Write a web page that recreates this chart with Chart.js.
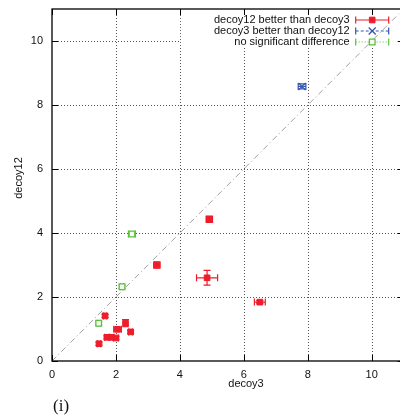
<!DOCTYPE html>
<html>
<head>
<meta charset="utf-8">
<script src="https://cdn.jsdelivr.net/npm/chart.js@4/dist/chart.umd.min.js"></script>
<style>
html,body{margin:0;padding:0;background:#fff;overflow:hidden;}
#wrap{width:410px;height:419px;}
</style>
</head>
<body>
<div id="wrap"><canvas id="c" width="410" height="419"></canvas></div>
<script>
// ---- data ----
const xTicks = [0, 2, 4, 6, 8, 10];
const yTicks = [0, 2, 4, 6, 8, 10];
const axisRange = [0, 11];
const diagonal = [0, 11];

const seriesLabels = ["decoy12 better than decoy3", "decoy3 better than decoy12", "no significant difference"];

const redX    = [4.92, 3.28, 4.85, 6.50, 1.66, 2.30, 2.05, 2.46, 1.72, 1.86, 2.00, 1.47];
const redY    = [4.43, 3.00, 2.60, 1.84, 1.41, 1.18, 0.99, 0.91, 0.74, 0.74, 0.72, 0.54];
const redXErr = [0.10, 0.10, 0.33, 0.17, 0.05, 0.05, 0.12, 0.06, 0.08, 0.08, 0.08, 0.05];
const redYErr = [0.10, 0.10, 0.23, 0.05, 0.05, 0.11, 0.05, 0.05, 0.05, 0.05, 0.05, 0.05];

const blueX    = [7.82];
const blueY    = [8.58];
const blueXErr = [0.12];
const blueYErr = [0.08];

const greenX    = [2.50, 2.19, 1.46];
const greenY    = [3.97, 2.32, 1.18];
const greenXErr = [0.11, 0.05, 0.05];
const greenYErr = [0.03, 0.05, 0.05];

const xTitle = "decoy3";
const yTitle = "decoy12";
const panelLabel = "(i)";

// ---- styles ----
const RED = "#ee1d2b", BLUE = "#3456b0", GREEN = "#5fbf3c";
const FONT = "'Liberation Sans', Arial, Helvetica, sans-serif";

function pts(xs, ys, xe, ye) {
  return xs.map((x, i) => ({x: x, y: ys[i], xe: xe[i], ye: ye[i]}));
}

const datasets = [
  {
    type: 'line', label: 'diag',
    data: diagonal.map(v => ({x: v, y: v})),
    borderColor: '#a0a0a0', borderWidth: 1, borderDash: [6, 3, 1, 3],
    pointRadius: 0, fill: false
  },
  {
    label: seriesLabels[0], data: pts(redX, redY, redXErr, redYErr),
    pointStyle: 'rect', pointRadius: 4, backgroundColor: RED, borderColor: RED, borderWidth: 1,
    errColor: RED, errDash: []
  },
  {
    label: seriesLabels[1], data: pts(blueX, blueY, blueXErr, blueYErr),
    pointStyle: 'crossRot', pointRadius: 5, backgroundColor: BLUE, borderColor: BLUE, borderWidth: 1.3,
    errColor: BLUE, errDash: [3, 2]
  },
  {
    label: seriesLabels[2], data: pts(greenX, greenY, greenXErr, greenYErr),
    pointStyle: 'rect', pointRadius: 4, backgroundColor: '#f4fbf0', borderColor: GREEN, borderWidth: 1.3,
    errColor: GREEN, errDash: [1, 2]
  }
];

const CAP = 3.5;

function drawErr(ctx, xs, ys, d, color, dash) {
  const x = xs.getPixelForValue(d.x), y = ys.getPixelForValue(d.y);
  const x0 = xs.getPixelForValue(d.x - d.xe), x1 = xs.getPixelForValue(d.x + d.xe);
  const y0 = ys.getPixelForValue(d.y - d.ye), y1 = ys.getPixelForValue(d.y + d.ye);
  ctx.strokeStyle = color; ctx.lineWidth = 1.2; ctx.setLineDash(dash);
  ctx.beginPath();
  ctx.moveTo(x0, y); ctx.lineTo(x1, y);
  ctx.moveTo(x, y0); ctx.lineTo(x, y1);
  ctx.stroke();
  ctx.setLineDash([]);
  ctx.beginPath();
  ctx.moveTo(x0, y - CAP); ctx.lineTo(x0, y + CAP);
  ctx.moveTo(x1, y - CAP); ctx.lineTo(x1, y + CAP);
  ctx.moveTo(x - CAP, y0); ctx.lineTo(x + CAP, y0);
  ctx.moveTo(x - CAP, y1); ctx.lineTo(x + CAP, y1);
  ctx.stroke();
}

const gnuplotPlugin = {
  id: 'gnuplot',
  beforeDatasetsDraw(chart) {
    const ctx = chart.ctx, a = chart.chartArea;
    const xs = chart.scales.x, ys = chart.scales.y;
    ctx.save();
    // grid
    ctx.strokeStyle = '#555'; ctx.lineWidth = 1; ctx.setLineDash([1, 2]);
    ctx.beginPath();
    xTicks.forEach(v => { if (v === axisRange[0]) return; const p = Math.round(xs.getPixelForValue(v)) + 0.5; ctx.moveTo(p, a.top); ctx.lineTo(p, a.bottom); });
    yTicks.forEach(v => { if (v === axisRange[0]) return; const p = Math.round(ys.getPixelForValue(v)) + 0.5; ctx.moveTo(a.left, p); ctx.lineTo(a.right, p); });
    ctx.stroke();
    ctx.setLineDash([]);
    // opaque key box
    ctx.fillStyle = '#fff';
    ctx.fillRect(xs.getPixelForValue(4) + 1, a.top, a.right - xs.getPixelForValue(4) - 1, 38);
    // inward ticks
    ctx.strokeStyle = '#000'; ctx.lineWidth = 1;
    ctx.beginPath();
    const T = 6;
    xTicks.forEach(v => { const p = Math.round(xs.getPixelForValue(v)) + 0.5; ctx.moveTo(p, a.bottom); ctx.lineTo(p, a.bottom - T); ctx.moveTo(p, a.top); ctx.lineTo(p, a.top + T); });
    yTicks.forEach(v => { const p = Math.round(ys.getPixelForValue(v)) + 0.5; ctx.moveTo(a.left, p); ctx.lineTo(a.left + T, p); ctx.moveTo(a.right, p); ctx.lineTo(a.right - T, p); });
    ctx.stroke();
    ctx.restore();
  },
  beforeDatasetDraw(chart, args) {
    const ds = chart.data.datasets[args.index];
    if (!ds.errColor) return;
    const ctx = chart.ctx;
    ctx.save();
    ds.data.forEach(d => drawErr(ctx, chart.scales.x, chart.scales.y, d, ds.errColor, ds.errDash));
    ctx.restore();
  },
  afterDraw(chart) {
    const ctx = chart.ctx, a = chart.chartArea;
    ctx.save();
    // border
    ctx.strokeStyle = '#000'; ctx.lineWidth = 1.3;
    ctx.strokeRect(a.left, a.top, a.right - a.left, a.bottom - a.top);
    // key
    ctx.font = '11px ' + FONT; ctx.fillStyle = '#111';
    ctx.textAlign = 'right'; ctx.textBaseline = 'middle';
    const tx = a.right - 54, s0 = a.right - 48, s1 = a.right - 15, sm = (s0 + s1) / 2;
    chart.data.datasets.slice(1).forEach((ds, i) => {
      const y = a.top + 11 + i * 11;
      ctx.fillStyle = '#111';
      ctx.fillText(ds.label, tx, y);
      ctx.strokeStyle = ds.errColor; ctx.lineWidth = 1.2;
      ctx.setLineDash(ds.errDash);
      ctx.beginPath(); ctx.moveTo(s0, y); ctx.lineTo(s1, y); ctx.stroke();
      ctx.setLineDash([]);
      ctx.beginPath(); ctx.moveTo(s0, y - CAP); ctx.lineTo(s0, y + CAP); ctx.moveTo(s1, y - CAP); ctx.lineTo(s1, y + CAP); ctx.stroke();
      ctx.fillStyle = ds.backgroundColor; ctx.strokeStyle = ds.borderColor; ctx.lineWidth = ds.borderWidth;
      Chart.helpers.drawPoint(ctx, {pointStyle: ds.pointStyle, radius: ds.pointRadius, borderWidth: ds.borderWidth}, sm, y);
    });
    // axis titles
    ctx.fillStyle = '#111'; ctx.textAlign = 'center'; ctx.textBaseline = 'middle';
    ctx.font = '11px ' + FONT;
    ctx.fillText(xTitle, 246, 384);
    ctx.save(); ctx.translate(19, 178); ctx.rotate(-Math.PI / 2); ctx.fillText(yTitle, 0, 0); ctx.restore();
    ctx.font = "17px 'Liberation Serif', 'Times New Roman', serif";
    ctx.textAlign = 'left';
    ctx.fillText(panelLabel, 53, 407);
    ctx.restore();
  }
};

new Chart(document.getElementById('c'), {
  type: 'scatter',
  data: {datasets: datasets},
  options: {
    responsive: false, animation: false, devicePixelRatio: 1,
    layout: {padding: {top: 9, right: 5, left: 0, bottom: 0}},
    plugins: {legend: {display: false}, tooltip: {enabled: false}},
    scales: {
      x: {
        type: 'linear', min: axisRange[0], max: axisRange[1],
        afterBuildTicks: s => { s.ticks = xTicks.map(v => ({value: v})); },
        afterFit: s => { s.height = 58; s.paddingLeft = 0; s.paddingRight = 0; },
        grid: {display: false, drawTicks: false}, border: {display: false},
        ticks: {font: {family: FONT, size: 11}, color: '#111', padding: 7, maxRotation: 0, autoSkip: false}
      },
      y: {
        type: 'linear', min: axisRange[0], max: axisRange[1],
        afterBuildTicks: s => { s.ticks = yTicks.map(v => ({value: v})); },
        afterFit: s => { s.width = 52; s.paddingTop = 0; s.paddingBottom = 0; },
        grid: {display: false, drawTicks: false}, border: {display: false},
        ticks: {font: {family: FONT, size: 11}, color: '#111', padding: 9, autoSkip: false}
      }
    }
  },
  plugins: [gnuplotPlugin]
});
</script>
</body>
</html>
